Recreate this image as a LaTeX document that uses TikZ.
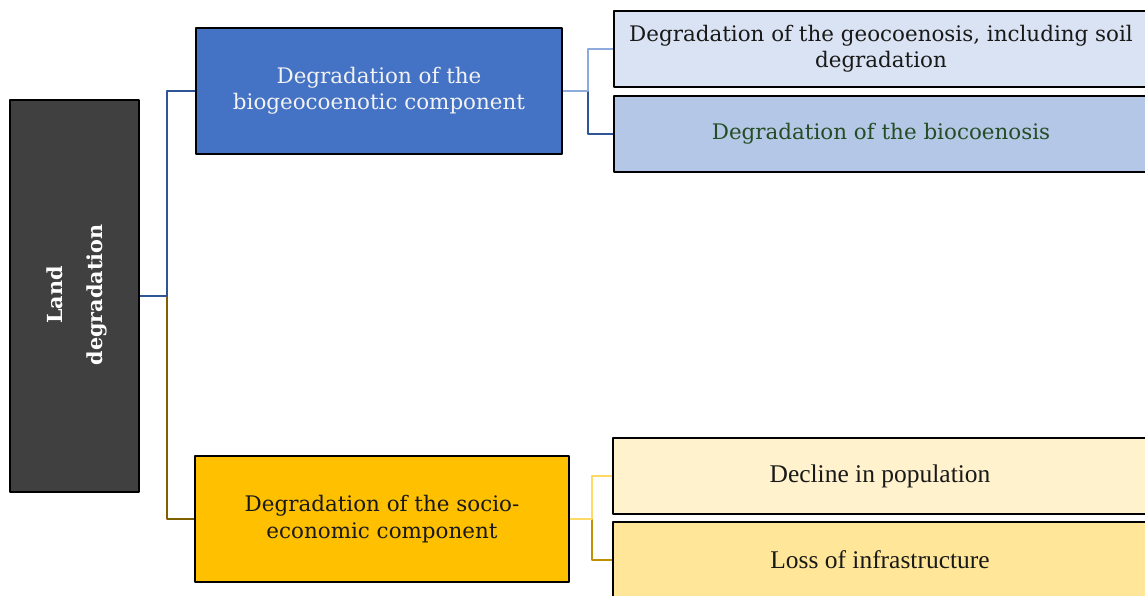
\documentclass[tikz,border=0pt]{standalone}
\usepackage{fontspec}
\setmainfont{DejaVu Serif}
\newfontfamily\timesfont{Liberation Serif}
\definecolor{rootgray}{HTML}{404040}
\definecolor{bluemain}{HTML}{4472C4}
\definecolor{bluelight}{HTML}{DAE3F3}
\definecolor{bluemid}{HTML}{B4C7E7}
\definecolor{bluedark}{HTML}{2F5597}
\definecolor{bluelinelight}{HTML}{8FAADC}
\definecolor{goldmain}{HTML}{FFC000}
\definecolor{goldlight}{HTML}{FFF2CC}
\definecolor{goldmid}{HTML}{FFE699}
\definecolor{goldline}{HTML}{7F6000}
\definecolor{goldlinelight}{HTML}{FFD966}
\definecolor{goldlinedark}{HTML}{BF9000}
\definecolor{biotext}{HTML}{254D25}
\begin{document}
\begin{tikzpicture}[x=0.02cm,y=-0.02cm,line join=round,
		box/.style={draw=black,line width=1.1pt,inner sep=0pt,align=center,font=\fontsize{12.2}{15}\selectfont},
		leaf/.style={box,minimum width=10.7cm,minimum height=1.52cm},
		tleaf/.style={leaf,font=\fontsize{14.5}{17}\selectfont\timesfont},
		link/.style={line width=1.1pt}]
	\useasboundingbox (0,0) rectangle (1145,595);
	% main boxes
	\node[box,fill=rootgray,minimum width=2.58cm,minimum height=7.84cm] (root) at (74.5,296) {};
	\node[rotate=90,text=white,align=center,font=\fontsize{11.8}{22.7}\selectfont\bfseries] (rootlabel) at (77,295) {Land\\degradation};
	\node[box,fill=bluemain,text=white!95!black,minimum width=7.32cm,minimum height=2.52cm] (bio) at (379,91) {Degradation of the\\biogeocoenotic component};
	\node[box,fill=goldmain,text=black!90,minimum width=7.48cm,minimum height=2.52cm] (socio) at (382,519) {Degradation of the socio-\\economic component};
	% leaves
	\node[leaf,fill=bluelight,text=black!90] (geo) at (881,49) {Degradation of the geocoenosis, including soil\\degradation};
	\node[leaf,fill=bluemid,text=biotext] (biocoen) at (881,134) {Degradation of the biocoenosis};
	\node[tleaf,fill=goldlight,text=black!90] (pop) at (880,476) {Decline in population};
	\node[tleaf,fill=goldmid,text=black!90] (infra) at (880,560) {Loss of infrastructure};
	% connectors
	\coordinate (jroot) at (167,296);
	\coordinate (jbio) at (588,91);
	\coordinate (jsocio) at (592,519);
	\draw[link,goldline] (jroot) |- (socio.west);
	\draw[link,bluedark] (root.east) -- (jroot) |- (bio.west);
	\draw[link,bluedark] (jbio) |- (biocoen.west);
	\draw[link,bluelinelight] (bio.east) -- (jbio) |- (geo.west);
	\draw[link,goldlinedark] (jsocio) |- (infra.west);
	\draw[link,goldlinelight] (socio.east) -- (jsocio) |- (pop.west);
\end{tikzpicture}
\end{document}
